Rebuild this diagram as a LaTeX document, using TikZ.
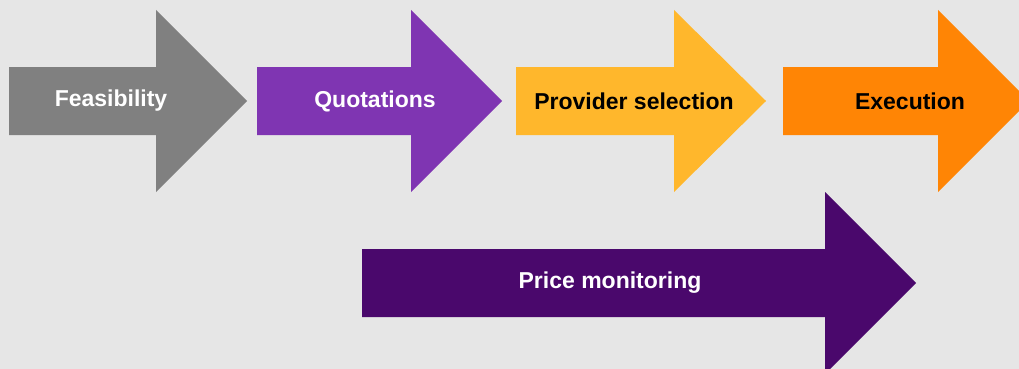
\documentclass[tikz,border=0pt]{standalone}
\usepackage{fontspec}
\setmainfont{Liberation Sans}
\usepackage{tikz}
\definecolor{bggray}{HTML}{E6E6E6}
\definecolor{stepgray}{HTML}{808080}
\definecolor{steppurple}{HTML}{7F35B2}
\definecolor{stepyellow}{HTML}{FFB72C}
\definecolor{steporange}{HTML}{FF8505}
\definecolor{monpurple}{HTML}{4A086C}
\tikzstyle{steplabel}=[font=\bfseries\fontsize{23}{26}\selectfont, inner sep=0pt]
% shaft left, head start, tip, centre line, colour
\newcommand{\flowarrow}[5]{%
  \fill[#5] (#1, #4-34) -- (#2, #4-34) -- (#2, #4-91) -- (#3, #4)
    -- (#2, #4+91) -- (#2, #4+34) -- (#1, #4+34) -- cycle;}

\begin{document}
\begin{tikzpicture}[x=1pt, y=-1pt]
                    \fill[bggray] (0, 0) rectangle (1019, 369);
                    \useasboundingbox (0, 0) rectangle (1019, 369);
                    \flowarrow{9}{156}{247}{101}{stepgray}
                    \flowarrow{257}{411}{502}{101}{steppurple}
                    \flowarrow{516}{674}{766}{101}{stepyellow}
                    \flowarrow{783}{938}{1029}{101}{steporange}
                    \flowarrow{362}{825}{916}{283}{monpurple}
                    \node[steplabel, text=white] (feas) at (111, 101) {Feasibility};
                    \node[steplabel, text=white] (quot) at (375, 101) {Quotations};
                    \node[steplabel, text=black] (prov) at (634, 101) {Provider selection};
                    \node[steplabel, text=black] (exec) at (910, 101) {Execution};
                    \node[steplabel, text=white] (price) at (610, 283) {Price monitoring};
                \end{tikzpicture}
\end{document}
